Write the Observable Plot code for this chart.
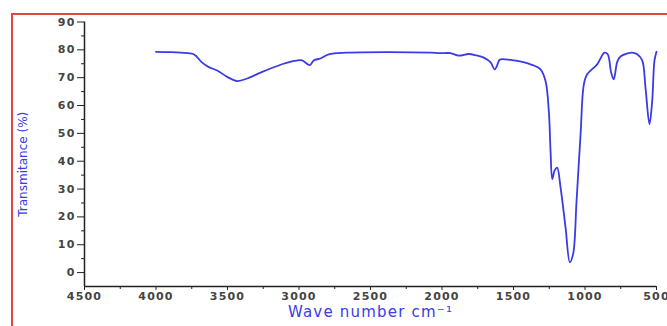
<!DOCTYPE html>
<html><head><meta charset="utf-8">
<script src="https://cdn.jsdelivr.net/npm/d3@7"></script>
<script src="https://cdn.jsdelivr.net/npm/@observablehq/plot@0.6"></script>
<style>
html,body{margin:0;padding:0;overflow:hidden;background:#fff;width:667px;height:326px}
#wrap{position:relative;width:667px;height:326px}
#border{position:absolute;left:11px;top:13px;width:700px;height:400px;border:2px solid #e5453f;pointer-events:none;z-index:2}
</style></head><body><div id="wrap"><div id="border"></div></div>
<script>
const wavenumbers = [4000,3900,3829,3736,3677,3631,3572,3502,3432,3362,3269,3152,3036,2978,2925,2897,2850,2792,2663,2383,2081,2011,1941,1883,1813,1760,1708,1660,1631,1600,1591,1498,1381,1311,1276,1253,1241,1229,1213,1195,1171,1136,1106,1083,1059,1031,1008,985,915,864,841,817,799,775,752,670,635,600,577,549,530,514,500];
const transmittance = [79.3,79.2,79.0,78.4,75.4,73.8,72.6,70.3,68.8,69.7,71.8,74.2,76.0,76.2,74.5,76.2,76.9,78.4,79.0,79.2,79.0,78.8,78.8,77.9,78.5,78.0,77.2,75.5,73.0,76.2,76.6,76.2,74.8,73.0,68.8,58.0,43.7,33.6,36.6,37.7,30.6,16.2,3.7,6.7,25.8,49.7,67.6,71.2,74.8,79.0,78.4,71.8,69.4,75.6,77.6,79.0,78.4,76.2,66.4,53.3,61.7,76.2,79.3];
const xTicks = [4500,4000,3500,3000,2500,2000,1500,1000,500];
const xMinorTicks = [4250,3750,3250,2750,2250,1750,1250,750];
const yTicks = [0,10,20,30,40,50,60,70,80,90];
const yMinorTicks = [5,15,25,35,45,55,65,75,85];
const xTitle = "Wave number cm\u207B\u00B9";
const yTitle = "Transmitance (%)";

const data = wavenumbers.map((w, i) => ({w, t: transmittance[i]}));
const blue = "#3a3ae6";

const chart = Plot.plot({
  width: 667, height: 326,
  marginLeft: 84, marginRight: 11, marginTop: 21.5, marginBottom: 40,
  style: {fontFamily: "DejaVu Sans", background: "transparent"},
  x: {domain: [4500, 500], label: null},
  y: {domain: [-5, 90], label: null},
  marks: [
    Plot.ruleX([4500], {stroke: "#222", strokeWidth: 1.5}),
    Plot.ruleY([-5], {stroke: "#222", strokeWidth: 1.5}),
    Plot.axisX(xTicks, {tickSize: 4, tickPadding: 2, tickFormat: d => String(d), fontSize: 11, fontWeight: "bold", fill: "#444", stroke: "#222", label: null}),
    Plot.axisX(xMinorTicks, {tickSize: 3, tickFormat: () => "", stroke: "#222", label: null}),
    Plot.axisY(yTicks, {tickSize: 7, tickPadding: 2, tickFormat: d => String(d), fontSize: 11, fontWeight: "bold", fill: "#444", stroke: "#222", label: null}),
    Plot.axisY(yMinorTicks, {tickSize: 3, tickFormat: () => "", stroke: "#222", label: null}),
    Plot.line(data, {x: "w", y: "t", stroke: blue, strokeWidth: 1.8, curve: "catmull-rom"}),
    Plot.text([xTitle], {frameAnchor: "bottom", dy: 30, fill: blue, fontSize: 15}),
    Plot.text([yTitle], {frameAnchor: "left", dx: -61, dy: 10, rotate: -90, textAnchor: "middle", fill: blue, fontSize: 12})
  ]
});
document.getElementById("wrap").appendChild(chart);
d3.select(chart).selectAll("g[aria-label='x-axis tick label'] text, g[aria-label='y-axis tick label'] text").attr("letter-spacing", "1.2px");
d3.select(chart).selectAll("g[aria-label='text'] text").filter(function(){return this.textContent === xTitle;}).attr("letter-spacing", "1.2px");
</script>
</body></html>
